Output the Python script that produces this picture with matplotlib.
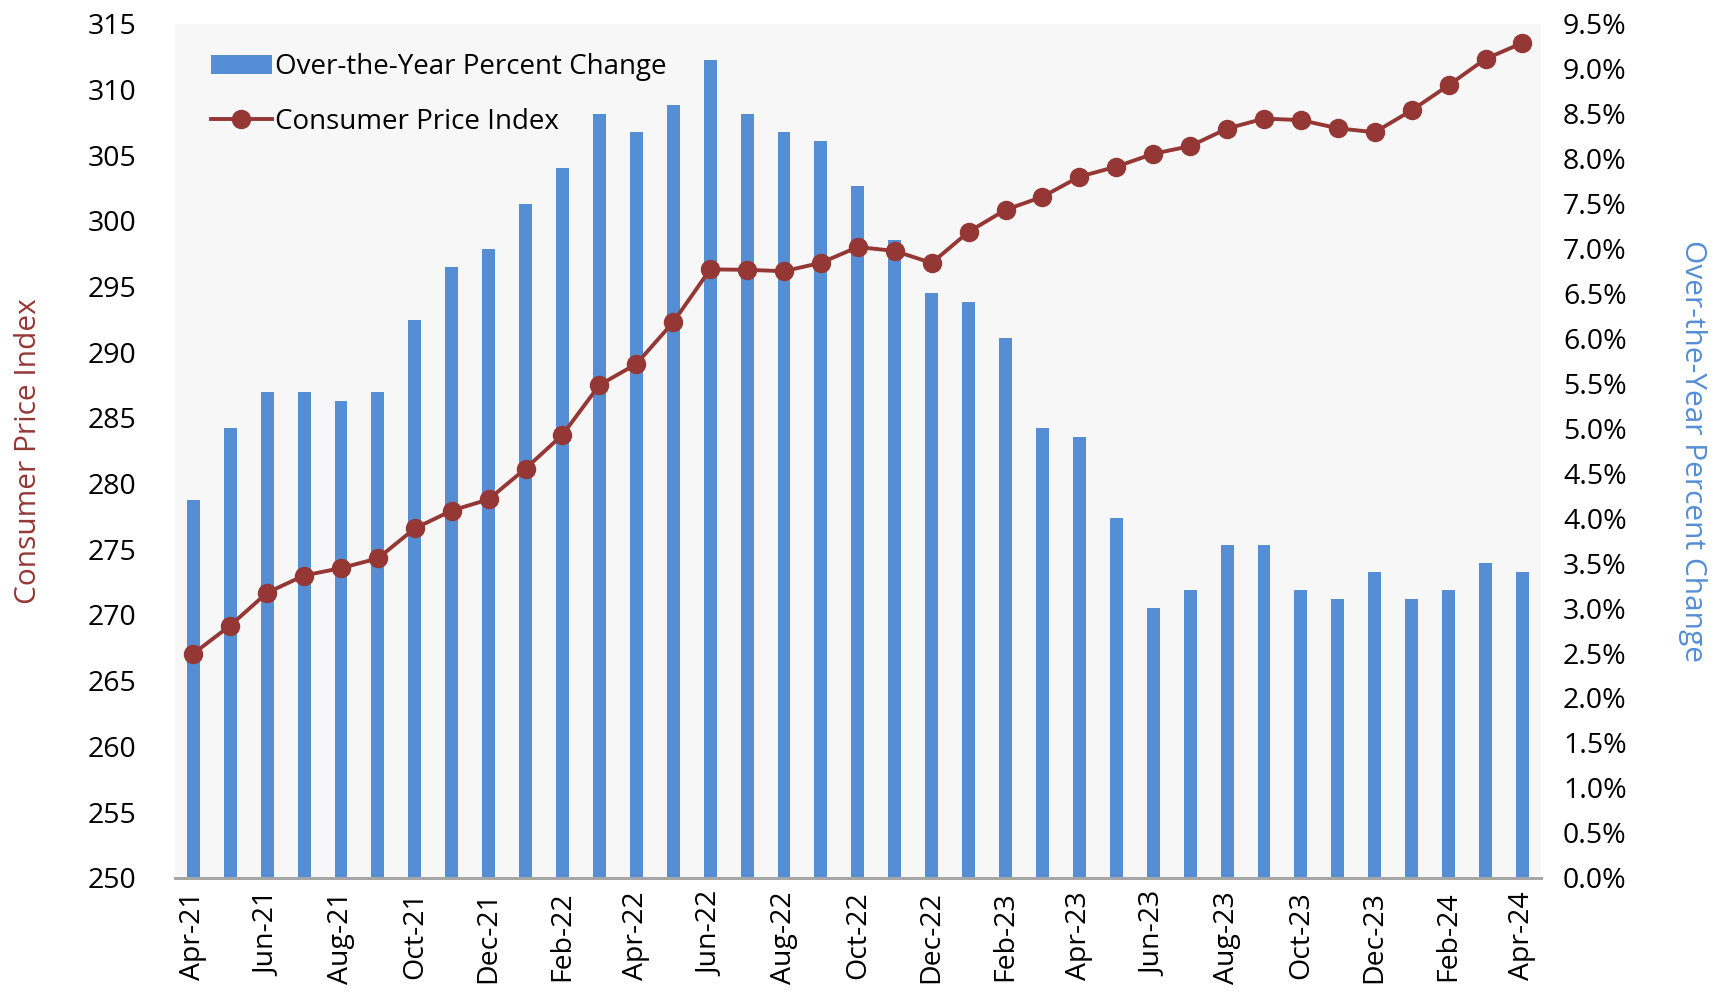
import matplotlib
matplotlib.use("Agg")
import matplotlib.pyplot as plt
import numpy as np

# monthly data, Apr-21 .. Apr-24
months = ['Apr-21', 'May-21', 'Jun-21', 'Jul-21', 'Aug-21', 'Sep-21', 'Oct-21', 'Nov-21',
          'Dec-21', 'Jan-22', 'Feb-22', 'Mar-22', 'Apr-22', 'May-22', 'Jun-22', 'Jul-22',
          'Aug-22', 'Sep-22', 'Oct-22', 'Nov-22', 'Dec-22', 'Jan-23', 'Feb-23', 'Mar-23',
          'Apr-23', 'May-23', 'Jun-23', 'Jul-23', 'Aug-23', 'Sep-23', 'Oct-23', 'Nov-23',
          'Dec-23', 'Jan-24', 'Feb-24', 'Mar-24', 'Apr-24']
cpi = [267.054, 269.195, 271.696, 273.003, 273.567, 274.310, 276.589, 277.948,
       278.802, 281.148, 283.716, 287.504, 289.109, 292.296, 296.311, 296.276,
       296.171, 296.808, 298.012, 297.711, 296.797, 299.170, 300.840, 301.836,
       303.363, 304.127, 305.109, 305.691, 307.026, 307.789, 307.671, 307.051,
       306.746, 308.417, 310.326, 312.332, 313.548]
pct_change = [4.2, 5.0, 5.4, 5.4, 5.3, 5.4, 6.2, 6.8, 7.0, 7.5, 7.9, 8.5, 8.3, 8.6,
              9.1, 8.5, 8.3, 8.2, 7.7, 7.1, 6.5, 6.4, 6.0, 5.0, 4.9, 4.0, 3.0, 3.2,
              3.7, 3.7, 3.2, 3.1, 3.4, 3.1, 3.2, 3.5, 3.4]

bar_color = '#558ED5'
line_color = '#953735'

plt.rcParams['font.family'] = ['Open Sans', 'DejaVu Sans']

fig = plt.figure(figsize=(17.14, 9.94), dpi=100)
ax_l = fig.add_axes([0.102, 0.117, 0.797, 0.859])
ax_r = ax_l.twinx()

x = np.arange(len(months))

# bars on the right axis, line on the left axis (drawn on top)
ax_r.bar(x, pct_change, width=0.35, color=bar_color, label='Over-the-Year Percent Change', zorder=1)
ax_l.set_zorder(ax_r.get_zorder() + 1)
ax_l.patch.set_visible(False)
ax_r.patch.set_visible(True)
ax_r.patch.set_facecolor('#F7F7F7')
ax_l.plot(x, cpi, color=line_color, lw=2.8, marker='o', markersize=13,
          label='Consumer Price Index', zorder=3)

ax_l.set_xlim(-0.5, 36.5)
ax_l.set_ylim(250, 315)
ax_r.set_ylim(0, 9.5)
ax_l.set_yticks(np.arange(250, 316, 5))
ax_r.set_yticks(np.arange(0, 9.6, 0.5))
ax_r.set_yticklabels([f'{v:.1f}%' for v in np.arange(0, 9.6, 0.5)])

ax_l.set_xticks(x[::2])
ax_l.set_xticklabels(months[::2], rotation=90)

for a in (ax_l, ax_r):
    for s in ('top', 'left', 'right'):
        a.spines[s].set_visible(False)
    a.spines['bottom'].set_color('#A6A6A6')
    a.spines['bottom'].set_linewidth(2)
    a.tick_params(length=0, labelsize=20.5, colors='black')
ax_l.tick_params(axis='y', pad=28)
ax_r.tick_params(axis='y', pad=16)
ax_l.tick_params(axis='x', pad=10)

ax_l.set_ylabel('Consumer Price Index', color=line_color, fontsize=21.5, labelpad=32)
ax_r.set_ylabel('Over-the-Year Percent Change', color=bar_color, fontsize=21.5,
                rotation=270, labelpad=58)

h1, l1 = ax_r.get_legend_handles_labels()
h2, l2 = ax_l.get_legend_handles_labels()
ax_l.legend(h1 + h2, l1 + l2, loc='upper left', bbox_to_anchor=(0.008, 0.995),
            frameon=False, fontsize=20, handlelength=2.2, handletextpad=0.1,
            labelspacing=0.95)

fig.savefig('out.png', dpi=100)
